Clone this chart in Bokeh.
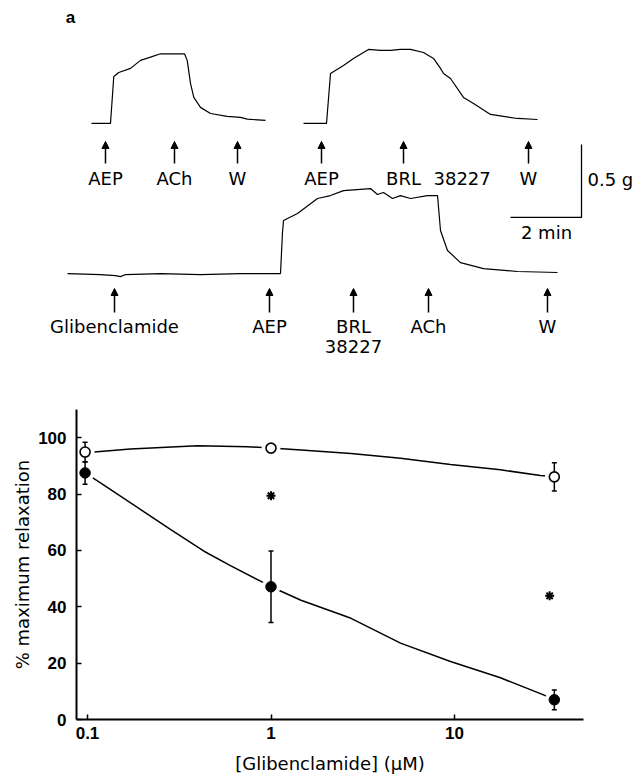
from bokeh.plotting import figure
from bokeh.models import (Range1d, Arrow, NormalHead, ColumnDataSource, Label,
                          FixedTicker, NumeralTickFormatter)
from bokeh.embed import file_html
from bokeh.resources import INLINE
from bokeh.core.properties import value

# ---------------- Panel a: isometric tension traces ----------------
# time (min from start of trace), tension (g above baseline)
trace1_time = [0, 0.535, 0.628, 0.769, 1.099, 1.380, 1.662, 1.944, 2.620, 2.696,
               2.789, 2.882, 3.070, 3.352, 3.823, 4.197, 4.386, 4.901]
trace1_tension = [0, 0, 0.322, 0.349, 0.377, 0.432, 0.454, 0.477, 0.477, 0.432,
                  0.274, 0.178, 0.110, 0.068, 0.048, 0.041, 0.029, 0.021]
trace1_events = [0.394, 2.338, 4.113]
trace1_labels = ["AEP", "ACh", "W"]

trace2_time = [0, 0.648, 0.761, 1.127, 1.408, 1.831, 2.169, 2.451, 2.732, 3.014,
               3.380, 3.662, 3.859, 3.944, 4.141, 4.507, 4.789, 5.268, 6.028, 6.592]
trace2_tension = [0, 0, 0.342, 0.397, 0.445, 0.507, 0.500, 0.500, 0.507, 0.507,
                  0.486, 0.445, 0.377, 0.342, 0.308, 0.178, 0.137, 0.062, 0.034, 0.027]
trace2_events = [0.507, 2.817, 6.338]
trace2_labels = ["AEP", "BRL", "W"]

trace3_time = [0, 0.930, 1.352, 1.493, 1.634, 2.620, 3.746, 4.873, 6.000, 6.056,
               6.085, 6.479, 7.042, 7.408, 7.775, 8.535, 8.732, 8.901, 9.155, 9.380,
               9.662, 10.141, 10.423, 10.507, 10.704, 11.070, 11.718, 12.676, 13.803]
trace3_tension = [0, -0.007, -0.014, -0.021, -0.007, 0, -0.007, 0, 0, 0.281,
                  0.363, 0.411, 0.514, 0.534, 0.568, 0.582, 0.541, 0.555, 0.514, 0.534,
                  0.514, 0.534, 0.534, 0.295, 0.158, 0.075, 0.034, 0.014, 0.007]
trace3_events = [1.324, 5.690, 8.056, 10.169, 13.521]
trace3_labels = ["Glibenclamide", "AEP", "BRL", "ACh", "W"]

brl_number = "38227"
scale_time_min = 2.0
scale_tension_g = 0.5

# ---------------- Panel b: concentration-response ----------------
conc_points = [0.097, 1.0, 35.0]
open_mean = [94.9, 96.3, 86.1]
open_sem = [3.5, 1.0, 5.0]
filled_mean = [87.5, 47.1, 7.0]
filled_sem = [4.0, 12.7, 3.5]
asterisk_conc = [1.0, 33.0]
asterisk_y = [79.4, 43.9]

open_fit_conc = [0.097, 0.1087, 0.1714, 0.3977, 0.745, 1.0, 1.457, 2.73, 5.08, 9.51, 17.8, 29.4, 35.0]
open_fit_y = [94.9, 94.9, 96.0, 97.1, 96.8, 96.3, 95.6, 94.4, 92.7, 90.5, 88.6, 86.6, 86.1]
filled_fit_conc = [0.097, 0.1177, 0.195, 0.283, 0.429, 0.601, 0.882, 1.0, 1.457, 2.73, 5.08, 9.51, 17.8, 30.1, 35.0]
filled_fit_y = [87.5, 84.0, 74.5, 67.5, 59.8, 54.6, 49.0, 47.1, 42.3, 35.9, 27.1, 20.6, 14.8, 8.9, 7.0]

x_ticks = [0.1, 1, 10]
y_ticks = [0, 20, 40, 60, 80, 100]

# ================= layout constants =================
PX_MIN = 35.5
PX_G = 146.0
MARGIN = 8
A_W, A_H = 632, 378
FONT = "DejaVu Sans"

pa = figure(width=A_W, height=A_H, x_range=Range1d(-MARGIN / PX_MIN, (A_W - MARGIN) / PX_MIN),
            y_range=Range1d(0, A_H / PX_G), output_backend="svg",
            toolbar_location=None, x_axis_type=None, y_axis_type=None,
            min_border=0, outline_line_color=None)
pa.xgrid.visible = False
pa.ygrid.visible = False

traces = [
    (trace1_time, trace1_tension, trace1_events, trace1_labels, 2.338, 1.747, 1),
    (trace2_time, trace2_tension, trace2_events, trace2_labels, 8.310, 1.747, 1),
    (trace3_time, trace3_tension, trace3_events, trace3_labels, 1.662, 0.719, 2),
]
row_geom = {1: (-18, -40, -55.5), 2: (-15, -39, -53)}

for tt, gg, ev, lab, t0, g0, row in traces:
    pa.line([t0 + v for v in tt], [g0 + v for v in gg], line_color="black", line_width=1.2)
    tip, tail, lab_off = row_geom[row]
    xs = [t0 + e for e in ev]
    src = ColumnDataSource(dict(xs=xs, ys=[g0 + tail / PX_G] * len(xs),
                                ye=[g0 + tip / PX_G] * len(xs)))
    pa.add_layout(Arrow(x_start="xs", y_start="ys", x_end="xs", y_end="ye", source=src,
                        line_width=1.5, line_color="black",
                        end=NormalHead(size=7, fill_color="black", line_color="black", line_width=1)))
    pa.text(x=xs, y=[g0 + lab_off / PX_G] * len(xs), text=lab,
            text_font=value(FONT), text_font_size="18px", text_color="black",
            text_align="center", text_baseline="middle")
    for x, l in zip(xs, lab):
        if l == "BRL":
            if row == 1:
                pa.text(x=[x + 30 / PX_MIN], y=[g0 + lab_off / PX_G], text=[brl_number],
                        text_font=value(FONT), text_font_size="18px", text_color="black",
                        text_align="left", text_baseline="middle")
            else:
                pa.text(x=[x], y=[g0 - 73 / PX_G], text=[brl_number],
                        text_font=value(FONT), text_font_size="18px", text_color="black",
                        text_align="center", text_baseline="middle")

# scale bar
sb_t, sb_g = 16.141, 1.103
pa.line([sb_t - scale_time_min, sb_t, sb_t], [sb_g, sb_g, sb_g + scale_tension_g],
        line_color="black", line_width=1.3)
pa.text(x=[sb_t + 6 / PX_MIN], y=[sb_g + 38 / PX_G], text=[f"{scale_tension_g} g"],
        text_font=value(FONT), text_font_size="18px", text_align="left", text_baseline="middle")
pa.text(x=[sb_t - 35 / PX_MIN], y=[sb_g - 15 / PX_G], text=[f"{int(scale_time_min)} min"],
        text_font=value(FONT), text_font_size="18px", text_align="center", text_baseline="middle")

pa.add_layout(Label(x=62 / PX_MIN, y=(A_H - 17) / PX_G, text="a", text_font="Liberation Sans",
                    text_font_style="bold", text_font_size="17px", text_align="center",
                    text_baseline="middle", text_color="black"))

# ================= panel b =================
pb = figure(width=632, height=398, x_axis_type="log", x_range=Range1d(0.0871, 50.47),
            y_range=Range1d(0, 110), output_backend="svg", toolbar_location=None,
            min_border_left=76, min_border_right=49, min_border_top=31, min_border_bottom=54,
            outline_line_color=None)
pb.xgrid.visible = False
pb.ygrid.visible = False

pb.line(open_fit_conc, open_fit_y, line_color="black", line_width=1.5)
pb.line(filled_fit_conc, filled_fit_y, line_color="black", line_width=1.5)
# white halos around points
pb.scatter(conc_points, open_mean, size=18, fill_color="white", line_color="white")
pb.scatter(conc_points, filled_mean, size=18, fill_color="white", line_color="white")

for mean, sem in ((open_mean, open_sem), (filled_mean, filled_sem)):
    lo = [m - s for m, s in zip(mean, sem)]
    hi = [m + s for m, s in zip(mean, sem)]
    pb.segment(x0=conc_points, y0=lo, x1=conc_points, y1=hi, line_color="black", line_width=1.5)
    pb.scatter(conc_points + conc_points, lo + hi, marker="dash", size=5, line_color="black",
               line_width=1.5)

pb.scatter(conc_points, filled_mean, size=10.5, fill_color="black", line_color="black")
pb.scatter(conc_points, open_mean, size=10, fill_color="white", line_color="black", line_width=1.6)
pb.scatter(asterisk_conc, asterisk_y, marker="asterisk", size=9, line_color="black", line_width=2)

pb.xaxis.ticker = FixedTicker(ticks=x_ticks)
pb.xaxis.formatter = NumeralTickFormatter(format="0.[0]")
pb.yaxis.ticker = FixedTicker(ticks=y_ticks)
pb.xaxis.axis_label = "[Glibenclamide] (μM)"
pb.yaxis.axis_label = "% maximum relaxation"
for ax in (pb.xaxis[0], pb.yaxis[0]):
    ax.axis_line_width = 2
    ax.axis_line_color = "black"
    ax.major_tick_in = 5
    ax.major_tick_out = 0
    ax.major_tick_line_width = 1.5
    ax.major_tick_line_color = "black"
    ax.minor_tick_line_color = None
    ax.major_label_text_font = "Liberation Sans"
    ax.major_label_text_font_style = "bold"
    ax.major_label_text_font_size = "17px"
    ax.major_label_text_color = "black"
    ax.axis_label_text_font = FONT
    ax.axis_label_text_font_style = "normal"
    ax.axis_label_text_font_size = "18px"
    ax.axis_label_text_color = "black"
pb.xaxis.major_label_standoff = 7
pb.xaxis.axis_label_standoff = 11
pb.yaxis.major_label_standoff = 10
pb.yaxis.axis_label_standoff = 2

pb.add_layout(Label(x=0.0881, y=114.2, text="b", text_font="Liberation Sans",
                    text_font_style="bold", text_font_size="17px", text_align="center",
                    text_baseline="middle", text_color="black"))

open("out.html", "w").write(file_html([pa, pb], INLINE))
